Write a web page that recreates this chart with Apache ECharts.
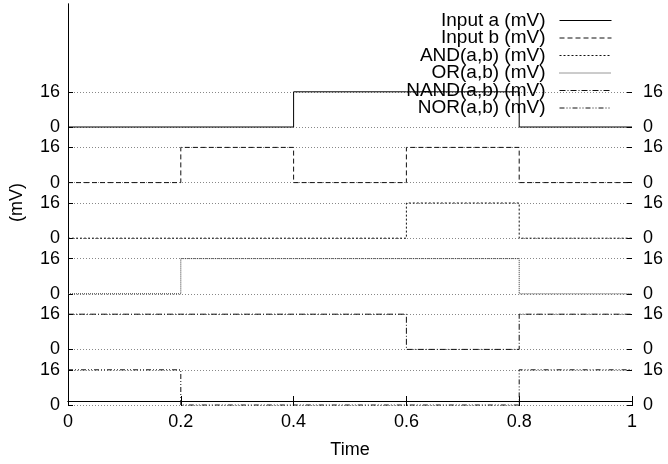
<!DOCTYPE html>
<html><head><meta charset="utf-8">
<script src="https://cdn.jsdelivr.net/npm/echarts@6/dist/echarts.min.js"></script>
<style>html,body{margin:0;padding:0;background:#fff}#c{width:668px;height:464px}</style>
</head><body><div id="c"></div>
<script>
const times = [0, 0.2, 0.4, 0.6, 0.8, 1.0];
const seriesNames = ['Input a (mV)', 'Input b (mV)', 'AND(a,b) (mV)', 'OR(a,b) (mV)', 'NAND(a,b) (mV)', 'NOR(a,b) (mV)'];
const inputA = [0, 0, 16, 16, 0, 0];
const inputB = [0, 16, 0, 16, 0, 0];
const andAB  = [0, 0, 0, 16, 0, 0];
const orAB   = [0, 16, 16, 16, 0, 0];
const nandAB = [16, 16, 16, 0, 16, 16];
const norAB  = [16, 0, 0, 0, 16, 16];
const yMin = 0, yMax = 16;
const xMin = 0, xMax = 1, xStep = 0.2;

const traces = [inputA, inputB, andAB, orAB, nandAB, norAB];
const dashes = ['solid', [5, 3], [2, 2], [1, 1], [6, 2, 1, 2], [5, 2, 1, 2, 1, 2]];
const colors = ['#000', '#111', '#111', '#333', '#111', '#111'];

const FONT = 'Liberation Sans, Arial, Helvetica, sans-serif';
const L = 68, R = 36, T = 4, B = 59;
const bottomZero = 405, stepPx = 55.6, bandPx = 35.2;

const grids = [{left: L, right: R, top: T, bottom: B, show: false}];
const xAxes = [
  {gridIndex: 0, type: 'value', min: xMin, max: xMax, interval: xStep, position: 'bottom',
   name: 'Time', nameLocation: 'middle', nameGap: 40,
   nameTextStyle: {fontFamily: FONT, fontSize: 18, color: '#000'},
   axisLine: {show: true, lineStyle: {color: '#000', width: 1}},
   axisTick: {show: true, inside: true, length: 5, lineStyle: {color: '#000'}},
   axisLabel: {fontFamily: FONT, fontSize: 18, color: '#000', margin: 12,
     formatter: v => String(Math.round(v * 10) / 10)},
   splitLine: {show: false}},
  {gridIndex: 0, type: 'value', min: xMin, max: xMax, interval: xStep, position: 'top',
   axisLine: {show: true, lineStyle: {color: '#000', width: 1}},
   axisTick: {show: true, inside: true, length: 5, lineStyle: {color: '#000'}},
   axisLabel: {show: false}, splitLine: {show: false}}
];
const yAxes = [
  {gridIndex: 0, type: 'value', min: 0, max: 1, position: 'left',
   name: '(mV)', nameLocation: 'middle', nameGap: 42, nameRotate: 90,
   nameTextStyle: {fontFamily: FONT, fontSize: 18, color: '#000'},
   axisLine: {show: true, lineStyle: {color: '#000', width: 1}},
   axisTick: {show: false}, axisLabel: {show: false}, splitLine: {show: false}},
  {gridIndex: 0, type: 'value', min: 0, max: 1, position: 'right',
   axisLine: {show: true, lineStyle: {color: '#000', width: 1}},
   axisTick: {show: false}, axisLabel: {show: false}, splitLine: {show: false}}
];
const series = [];

traces.forEach((vals, k) => {
  const gi = k + 1;
  const zeroY = bottomZero - (traces.length - 1 - k) * stepPx;
  grids.push({left: L, right: R, top: zeroY - bandPx, height: bandPx, show: false});
  xAxes.push({gridIndex: gi, type: 'value', min: xMin, max: xMax, show: false});
  const yCommon = {gridIndex: gi, type: 'value', min: yMin, max: yMax, interval: yMax - yMin,
    axisLine: {show: false},
    axisTick: {show: true, inside: true, length: 5, lineStyle: {color: '#000'}},
    axisLabel: {fontFamily: FONT, fontSize: 18, color: '#000', margin: 8}};
  yAxes.push(Object.assign({}, yCommon, {position: 'left',
    splitLine: {show: true, lineStyle: {color: '#888', type: [1, 2], width: 1}}}));
  yAxes.push(Object.assign({}, yCommon, {position: 'right', splitLine: {show: false},
    axisLabel: {fontFamily: FONT, fontSize: 18, color: '#000', margin: 11}}));
  series.push({
    name: seriesNames[k], type: 'line', step: 'end',
    xAxisIndex: gi + 1, yAxisIndex: 2 * gi,
    data: times.map((t, i) => [t, vals[i]]),
    symbol: 'none', clip: false, animation: false,
    lineStyle: {color: colors[k], width: 1, type: dashes[k]},
    itemStyle: {color: colors[k]}
  });
});

const chart = echarts.init(document.getElementById('c'), null, {renderer: 'canvas'});
chart.setOption({
  animation: false,
  backgroundColor: '#fff',
  grid: grids, xAxis: xAxes, yAxis: yAxes, series: series,
  legend: {
    orient: 'vertical', right: 56, top: 11, padding: 0, itemGap: -1.5,
    align: 'right', itemWidth: 52, itemHeight: 14,
    data: seriesNames,
    itemStyle: {opacity: 0, color: 'transparent', borderWidth: 0},
    lineStyle: {width: 1},
    textStyle: {fontFamily: FONT, fontSize: 19, color: '#000', padding: [0, 9, 0, 0]}
  }
});
</script></body></html>
